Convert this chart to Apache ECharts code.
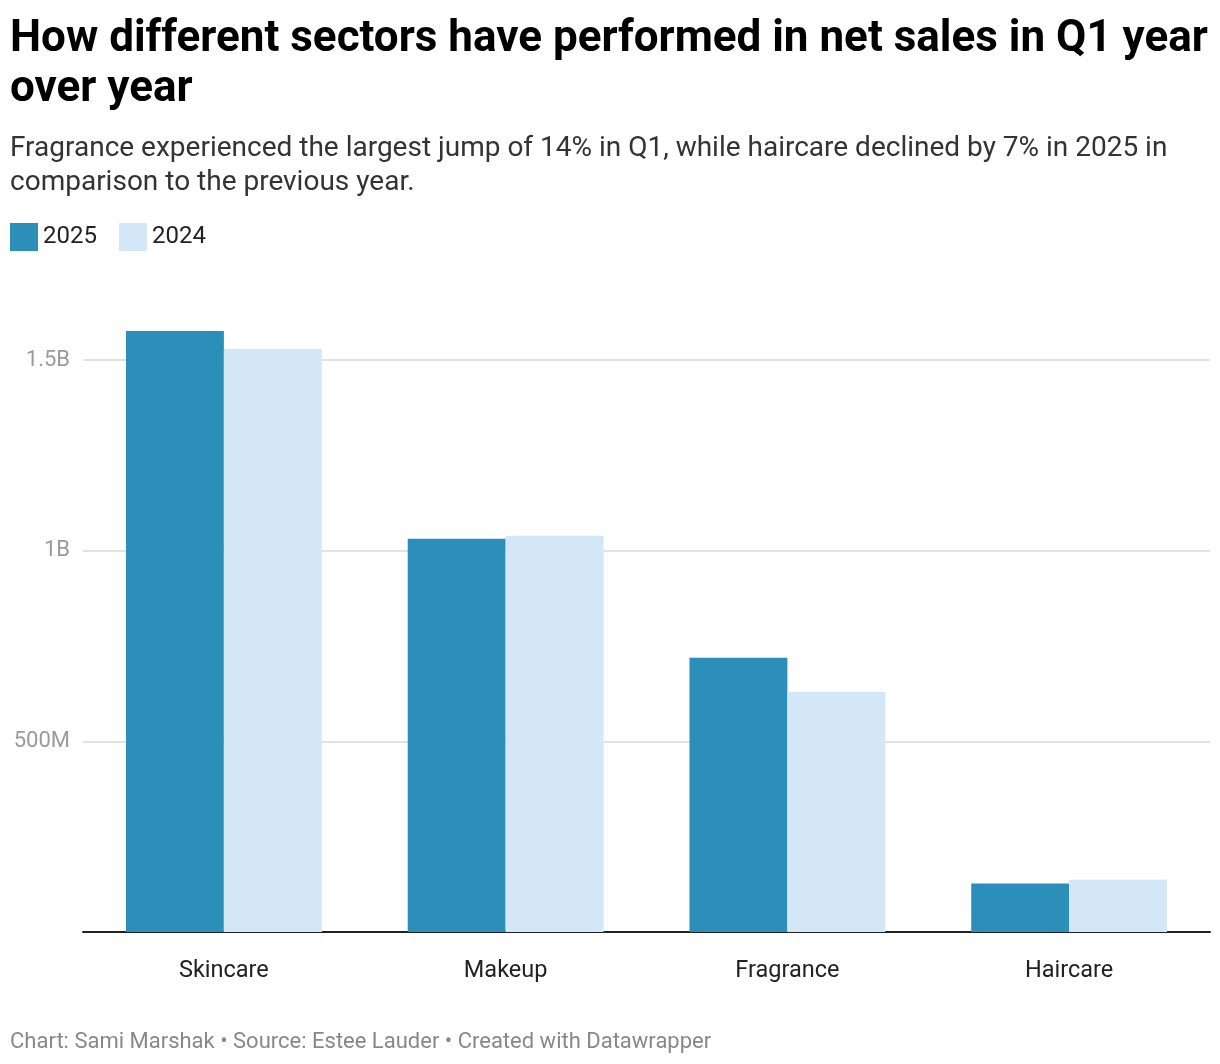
<!DOCTYPE html>
<html><head><meta charset="utf-8">
<script src="https://cdn.jsdelivr.net/npm/echarts@6/dist/echarts.min.js"></script>
<style>html,body{margin:0;padding:0;background:#fff}#c{width:1220px;height:1064px}</style>
</head><body><div id="c"></div>
<script>
const categories = ['Skincare', 'Makeup', 'Fragrance', 'Haircare'];
const sales2025 = [1576, 1031, 719, 127];
const sales2024 = [1529, 1039, 630, 137];
const yTicks = {500: '500M', 1000: '1B', 1500: '1.5B'};

const chart = echarts.init(document.getElementById('c'));
const F = 'Roboto, "Noto Sans", sans-serif';
chart.setOption({
  backgroundColor: '#fff',
  animation: false,
  textStyle: {fontFamily: F},
  title: [{
    text: 'How different sectors have performed in net sales in Q1 year\nover year',
    left: 10, top: 15, padding: 0,
    textStyle: {fontSize: 44, fontWeight: 'bold', color: '#000', lineHeight: 50, fontFamily: F}
  }, {
    text: 'Fragrance experienced the largest jump of 14% in Q1, while haircare declined by 7% in 2025 in\ncomparison to the previous year.',
    left: 10, top: 132, padding: 0,
    textStyle: {fontSize: 28, fontWeight: 'normal', color: '#333', lineHeight: 34, fontFamily: F}
  }, {
    text: 'Chart: Sami Marshak • Source: Estee Lauder • Created with Datawrapper',
    left: 10, top: 1031, padding: 0,
    textStyle: {fontSize: 22, fontWeight: 'normal', color: '#888', fontFamily: F}
  }],
  legend: {
    left: 10, top: 223, padding: 0, itemWidth: 28, itemHeight: 28, itemGap: 22,
    icon: 'rect',
    textStyle: {fontSize: 24, color: '#222'},
    data: ['2025', '2024']
  },
  grid: {left: 83, right: 10, top: 360, bottom: 132},
  xAxis: {
    type: 'category', data: categories,
    axisLine: {lineStyle: {color: '#222', width: 2}},
    axisTick: {alignWithLabel: true, length: 8, lineStyle: {color: '#222', width: 2}},
    axisLabel: {fontSize: 23.5, color: '#222', margin: 27}
  },
  yAxis: {
    type: 'value', min: 0, max: 1500, interval: 500,
    axisLine: {show: false}, axisTick: {show: false},
    splitLine: {lineStyle: {color: '#e2e2e2', width: 2}},
    axisLabel: {fontSize: 22, color: '#9a9a9a', margin: 13,
      formatter: v => yTicks[v] || ''}
  },
  series: [{
    name: '2025', type: 'bar', data: sales2025, clip: false,
    barGap: '0%', barCategoryGap: '30.5%',
    itemStyle: {color: '#2b8fba'}
  }, {
    name: '2024', type: 'bar', data: sales2024, clip: false,
    barGap: '0%', barCategoryGap: '30.5%',
    itemStyle: {color: '#d3e7f7'}
  }]
});
</script></body></html>
